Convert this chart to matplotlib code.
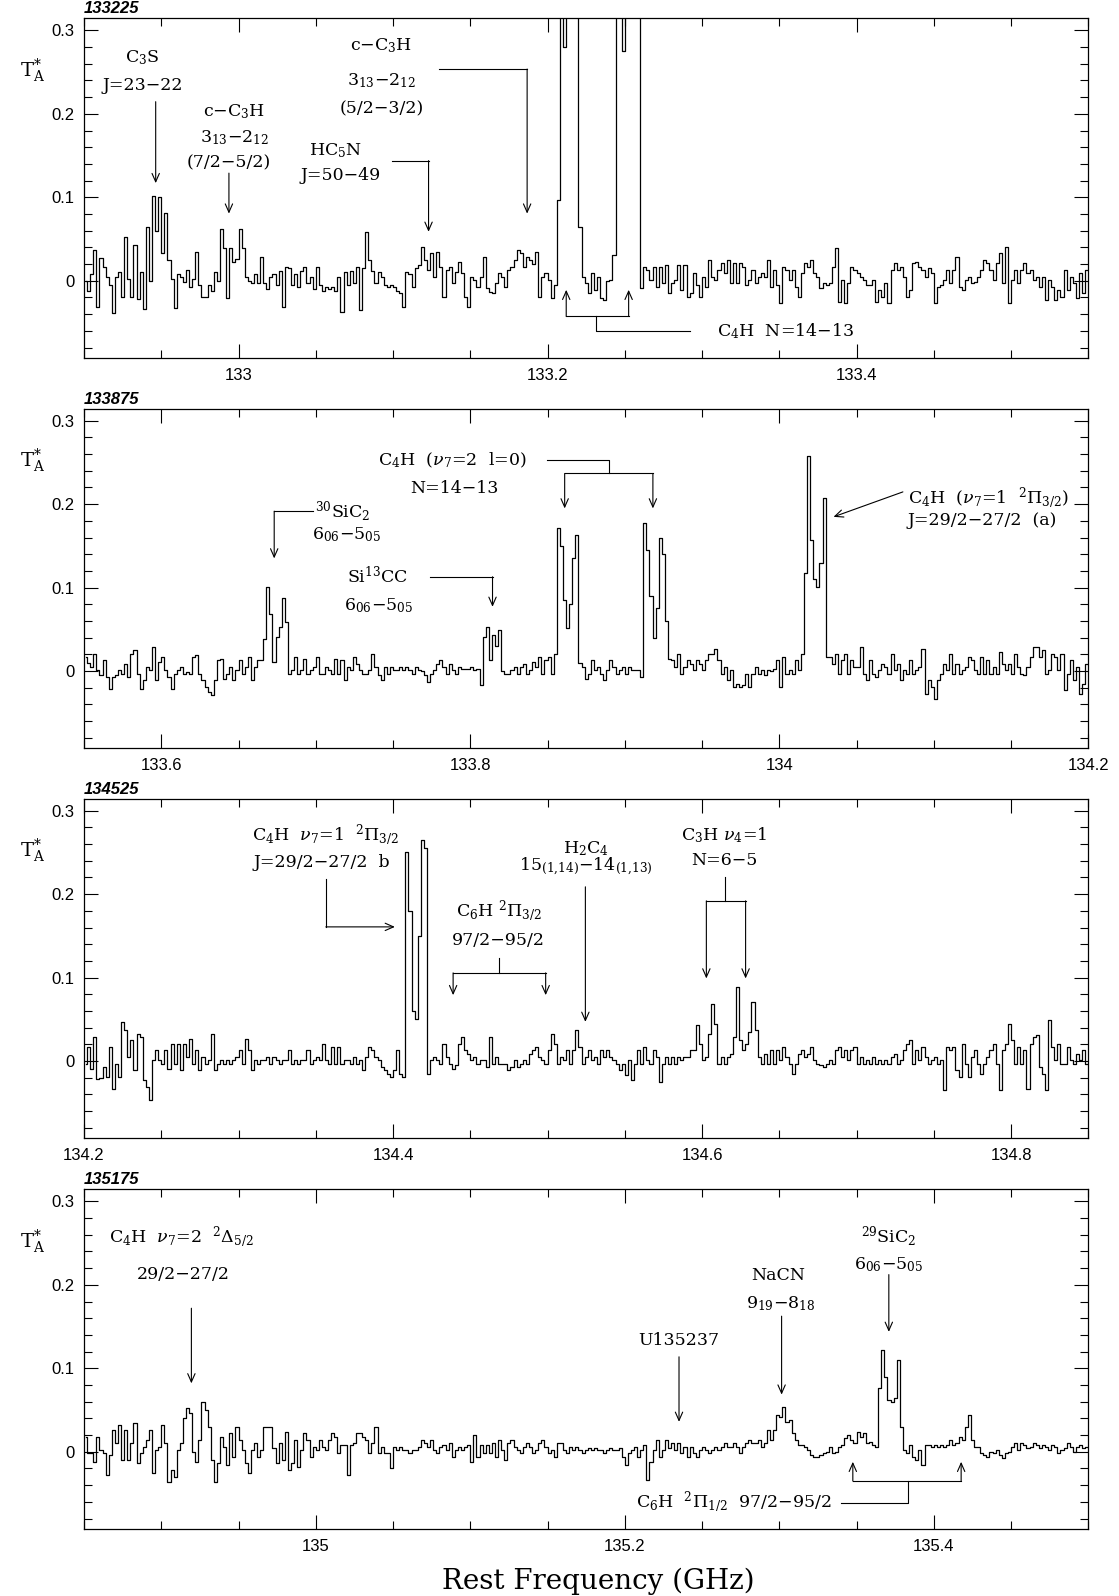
import numpy as np
import matplotlib.pyplot as plt
from matplotlib.ticker import FixedLocator, FuncFormatter

plt.rcParams['font.family'] = 'DejaVu Serif'
plt.rcParams['mathtext.fontset'] = 'dejavuserif'

# spectra: 2 MHz channels, antenna temperature in mK
chan_ghz = 0.002
starts = [132.90, 133.55, 134.20, 134.85]
tags = ['133225', '133875', '134525', '135175']

p1 = [0, -12, 8, 37, -31, 27, 17, 5, -5, -39,
      5, 10, -19, 53, 2, -20, 43, -22, 10, -34,
      65, 0, 101, 60, 100, 33, 81, 25, 2, -33,
      8, 5, -2, 13, -7, 2, 35, -5, -19, -20,
      -5, -12, 10, 0, 62, 39, -21, 39, 22, 26,
      62, 39, 5, 0, -3, 8, -3, 28, -3, -10,
      5, 8, -5, 12, -31, 17, 15, -5, 8, -8,
      12, 17, -3, 5, -10, 17, -5, -12, -8, -10,
      -8, -12, 5, -37, 10, -5, 12, -3, 17, -35,
      15, 59, 25, 12, -3, 10, 5, -5, -8, -5,
      -8, -12, -15, -31, 10, 8, -7, 15, 19, 41,
      25, 13, 33, 5, 35, 17, -19, 13, 17, -3,
      10, 23, 9, -19, -31, 5, 1, -7, 5, 29,
      -9, -13, -15, -3, 9, 5, -7, 13, 17, 25,
      37, 33, 17, 29, 25, 20, 35, -19, 5, 9,
      1, -21, -5, 97, 500, 280, 600, 800, 700, 500,
      65, 5, -3, -15, 9, -11, 5, -21, -23, 0,
      1, 31, 500, 800, 275, 700, 500, 450, 700, 600,
      -9, 17, 13, 1, 17, -7, 17, -3, 19, -15,
      -3, 1, 19, -11, 19, -19, -15, 9, -5, -19,
      5, -7, 25, 5, 1, 13, 21, 9, 25, -3,
      21, -3, 21, 17, -5, 1, 13, -3, 5, 9,
      5, 25, -7, 13, -5, -27, 17, 13, 1, 13,
      -7, -19, 9, 21, 17, 25, 9, 5, -9, -3,
      -5, -3, 17, 39, -25, 1, -27, -3, 17, 13,
      9, 5, 1, -5, -5, 1, -25, -11, -19, -3,
      -27, 13, 21, 13, 17, 5, -19, -11, 21, 23,
      17, 13, 5, 15, 9, -27, -7, -5, 1, 13,
      -3, 13, 29, -7, -11, 1, 5, -3, -1, 5,
      13, 25, 21, 13, 1, 21, 33, -3, 40, -27,
      1, 13, -3, 13, 21, 9, 13, 1, 5, -7,
      5, -23, 1, -7, -23, -11, -19, 13, -11, 5,
      -3, -21, 9, -15, 13]

p2 = [17, 10, 5, 21, 1, -5, 13, -7, -21, -7,
      -5, 1, -3, 9, -7, 21, 25, -3, -21, -11,
      5, 1, 29, -11, 11, 17, 1, -7, -21, -3,
      1, 5, -3, -1, -3, 17, 19, -3, -11, -19,
      -25, -29, -11, 13, 15, -9, -3, 5, -11, 1,
      13, -3, 5, 17, -11, 5, 13, 13, 39, 101,
      69, 11, 41, 53, 87, 59, -3, 1, 17, -3,
      1, 15, -3, 1, 5, 17, -3, -3, 5, 1,
      -3, 15, -3, 13, -11, 5, 1, 17, 9, 1,
      -3, -3, 1, 21, 5, -5, -11, 5, -3, 5,
      1, 1, 5, 1, 5, 1, -3, 5, 1, 0,
      -5, -13, -3, 1, 9, 13, 5, -3, 9, 1,
      -3, 5, 3, 3, 3, 5, 1, 3, -17, 41,
      53, 13, 43, 30, 49, 0, -3, -3, 1, 5,
      -3, 5, 9, -3, 1, 11, 5, 17, -3, 13,
      17, -3, 20, 172, 150, 85, 52, 80, 135, 163,
      10, 5, -9, -3, 13, 1, 5, -3, -11, 1,
      13, 5, -3, 1, 5, -3, 5, 1, 1, 1,
      -7, 178, 145, 90, 40, 75, 160, 140, 60, 15,
      13, 5, 21, -3, 5, 13, 9, 1, 13, 9,
      1, 13, 21, 21, 27, 13, -3, 5, -11, 1,
      -19, -15, -19, -17, -3, -19, -3, 5, -3, 1,
      -5, 1, 0, 3, 13, -19, 17, -3, 1, -3,
      13, 1, 20, 117, 258, 157, 110, 101, 130, 207,
      17, 17, 9, 21, -3, 13, 21, -3, 13, 5,
      5, 29, -3, -11, 13, -3, -7, 1, 9, 5,
      -3, 21, 1, 9, -11, 1, -3, 13, -3, 1,
      5, 27, -27, -11, -19, -33, -11, -3, 9, 1,
      21, -3, 9, -3, 1, 5, 17, 13, 1, -3,
      17, -3, 13, -3, 5, -3, 23, 9, 1, 9,
      -3, 21, 5, -3, -5, 5, 17, 29, 29, 17,
      25, -3, 1, 21, 17, 1, 21, -23, -3, 13,
      -11, 5, -27, -15, 9]

p3 = [-3, 17, -10, 29, -21, -20, -7, -19, 17, -33,
      -3, -19, 47, 37, 5, 25, -11, 33, 29, -23,
      -31, -47, 1, 13, 1, -3, 13, -9, 21, -3,
      21, -11, 21, 5, 27, -3, 13, -11, 5, -3,
      1, 33, -11, -3, 1, -3, 1, -3, 1, 5,
      13, -3, 27, 13, -11, 1, -3, 1, 1, 5,
      -3, 5, 1, -3, 1, 1, 13, -3, 1, -3,
      1, 1, 13, -3, 1, 5, 1, 21, 1, -3,
      17, -3, 17, -3, 1, 1, -3, 5, -3, 1,
      -11, 5, 17, 13, 5, 1, -7, -11, -15, -19,
      -11, 13, -15, -19, 250, 180, 60, 50, 150, 265,
      255, -15, 1, 5, 1, -3, 21, 5, -3, -9,
      -5, 21, 29, 13, 9, 1, 5, -3, 1, 1,
      -7, 29, -3, 5, -3, -3, -3, -11, -7, 1,
      -7, -3, 1, -3, 9, 13, 17, 5, 1, -3,
      13, 33, 21, -3, 5, 1, 13, -3, 13, 37,
      17, -3, 5, 13, 1, 5, -3, 13, 5, 13,
      5, 1, -3, -11, -3, -17, 1, -23, -3, 13,
      -3, 17, 1, -3, 13, 5, -25, -3, 5, -3,
      5, -3, 5, 1, 5, 5, 13, 13, 43, 21,
      1, 5, 33, 69, 45, -3, 5, -3, 5, 9,
      29, 89, 25, 13, 21, 35, 71, 37, 5, -3,
      9, -3, 13, -3, 13, 1, 17, 5, -3, -15,
      -3, 9, 13, 5, 9, 17, 1, -3, -5, -7,
      -3, 1, -3, 13, 17, 5, 13, 1, 13, 17,
      -3, 5, -3, 1, -3, 5, -3, 1, -3, 1,
      -3, 5, 9, -3, 1, 13, 21, 25, -3, 13,
      1, 17, 5, -3, 1, 5, -3, 1, -35, 17,
      13, 17, -11, -19, 21, -3, -19, 5, 13, -3,
      -15, -3, 5, 13, 21, -3, -35, 13, 21, 45,
      25, -3, 17, -3, 13, -33, 21, 29, 31, -7,
      -15, -35, 49, 17, 1, 21, -3, -3, 17, 1,
      -3, 9, 1, 13, -3]

p4 = [18, -2, -2, -12, 18, 2, -2, -28, -4, 26,
      10, 32, -10, 26, -10, 10, 34, -14, -2, 6,
      14, 26, -26, 2, 6, 32, 10, -36, -22, -30,
      2, 10, 40, 52, 46, 0, -12, 14, 60, 50,
      30, -10, -36, -14, 18, 6, -16, 22, -6, 30,
      14, 2, -14, -26, 2, 10, -6, 2, 30, 30,
      30, 4, -14, 10, -10, 24, -22, -14, 14, -18,
      2, 22, 14, -6, 6, 2, 14, 6, 2, 14,
      22, 18, -2, 8, 8, -28, 8, 10, 22, 22,
      18, 14, -2, 10, 30, -2, 6, -2, -2, -20,
      6, 2, 6, 2, 2, -2, 2, 2, 6, 14,
      10, 6, 14, 2, -2, 6, 8, 2, 10, -6,
      2, 6, 2, 6, 8, -12, 20, -6, 8, -2,
      8, -2, 10, -6, 14, 2, -10, 10, 14, 6,
      2, -2, 6, 10, 6, -2, 2, 10, 14, 6,
      -2, 2, -6, 10, 10, 2, -2, 6, 2, 6,
      2, -2, 2, 4, 2, 4, 2, 2, -2, 2,
      4, 2, 2, 4, -6, -16, -2, 2, 6, -6,
      2, 8, -34, -12, 2, 14, -6, 2, 14, 4,
      10, 2, 10, -2, 6, -6, 6, -2, -6, 2,
      6, 2, -2, 2, 6, 2, 6, 10, 6, 6,
      10, 6, -2, 6, 10, 14, 10, 10, 14, 6,
      10, 26, 14, 26, 44, 42, 54, 36, 38, 22,
      14, 8, 8, 6, 2, -4, -6, -6, -4, -2,
      0, 6, -2, 0, 6, 8, 16, 20, 14, 10,
      24, 18, 22, 10, 12, 8, 6, 76, 122, 90,
      62, 60, 64, 110, 30, 2, -2, 8, -6, -10,
      2, -16, 8, 8, 6, 8, 6, 8, 6, 8,
      14, 8, 10, 18, 14, 30, 44, 14, 6, 6,
      -2, -4, -6, 0, -2, 2, -4, -8, -2, 0,
      6, 10, 2, 10, 8, 4, 6, 10, 8, 4,
      8, 6, 2, 8, 6, -2, 2, 4, 10, 6,
      0, 6, 8, 4, 6]

spectra = [p1, p2, p3, p4]

fig = plt.figure(figsize=(11.19, 15.96), dpi=100)
left, width, height = 84 / 1119, 1004.3 / 1119, 339.7 / 1596
bottoms = [1 - 358 / 1596, 1 - 748.3 / 1596, 1 - 1138.3 / 1596, 1 - 1529 / 1596]
ymin, ymax = -0.0925, 0.3145

tick_font = dict(family='Liberation Sans', size=12)
ann_size = 12.5
lw_ann = 0.8


def arrow(ax, pts):
    # polyline with an open arrow head at the last point
    xs = [p[0] for p in pts]
    ys = [p[1] for p in pts]
    if len(pts) > 2:
        ax.plot(xs[:-1], ys[:-1], color='k', lw=lw_ann)
    ax.annotate('', xy=pts[-1], xytext=pts[-2],
                arrowprops=dict(arrowstyle='->,head_length=0.5,head_width=0.22',
                                color='k', lw=lw_ann, shrinkA=0, shrinkB=0,
                                mutation_scale=12))


def line(ax, pts):
    ax.plot([p[0] for p in pts], [p[1] for p in pts], color='k', lw=lw_ann)


def label(ax, x, y, s, ha='center'):
    ax.text(x, y, s, ha=ha, va='center', fontsize=ann_size)


axes = []
for k in range(4):
    ax = fig.add_axes([left, bottoms[k], width, height])
    f0 = starts[k]
    f1 = f0 + chan_ghz * len(spectra[k])
    temps = np.array(spectra[k]) / 1000.0
    freqs = f0 + chan_ghz * (np.arange(len(temps)) + 0.5)
    ax.plot(freqs, temps, drawstyle='steps-mid', color='k', lw=0.9)
    ax.set_xlim(f0, f1)
    ax.set_ylim(ymin, ymax)

    grid = np.round(np.arange(132.0, 136.0001, 0.05), 2)
    inside = grid[(grid >= f0 - 1e-6) & (grid <= f1 + 1e-6)]
    major = [t for t in inside if abs(t * 5 - round(t * 5)) < 1e-6]
    ax.xaxis.set_major_locator(FixedLocator(major))
    ax.xaxis.set_minor_locator(FixedLocator(list(inside)))
    ax.yaxis.set_major_locator(FixedLocator([0, 0.1, 0.2, 0.3]))
    ax.yaxis.set_minor_locator(FixedLocator(np.round(np.arange(-0.08, 0.31, 0.02), 2)))
    fmt = FuncFormatter(lambda v, p: '%g' % round(v, 3))
    ax.xaxis.set_major_formatter(fmt)
    ax.yaxis.set_major_formatter(fmt)
    ax.tick_params(which='both', direction='in', top=True, right=True, width=0.8)
    ax.tick_params(which='major', length=10, pad=7)
    ax.tick_params(which='minor', length=5.5)
    for t in ax.get_xticklabels() + ax.get_yticklabels():
        t.set_fontfamily(tick_font['family'])
        t.set_fontsize(tick_font['size'])
    for s in ax.spines.values():
        s.set_linewidth(0.9)

    ax.text(0.0, 1.006, tags[k], transform=ax.transAxes, ha='left', va='bottom',
            fontsize=12, fontweight='bold', style='italic', family='Liberation Sans')
    ax.text(-0.051, 0.845, r'T$_{\rm A}^{*}$', transform=ax.transAxes,
            ha='center', va='center', fontsize=14)
    axes.append(ax)

ax1, ax2, ax3, ax4 = axes

# panel 1
label(ax1, 132.9378, 0.267, r'C$_3$S')
label(ax1, 132.9378, 0.234, 'J=23−22')
arrow(ax1, [(132.9464, 0.2146), (132.9464, 0.117)])
label(ax1, 132.9972, 0.2024, 'c−C$_3$H')
label(ax1, 132.9972, 0.172, '3$_{13}$−2$_{12}$')
label(ax1, 132.9938, 0.1414, '(7/2−5/2)')
arrow(ax1, [(132.9938, 0.129), (132.9938, 0.0805)])
label(ax1, 133.063, 0.156, 'HC$_5$N')
label(ax1, 133.066, 0.1257, 'J=50−49')
arrow(ax1, [(133.0992, 0.144), (133.123, 0.144), (133.123, 0.0587)])
label(ax1, 133.0926, 0.2817, 'c−C$_3$H')
label(ax1, 133.0926, 0.2402, '3$_{13}$−2$_{12}$')
label(ax1, 133.0926, 0.2061, '(5/2−3/2)')
arrow(ax1, [(133.130, 0.2537), (133.1868, 0.2537), (133.1868, 0.0805)])
arrow(ax1, [(133.2121, -0.0427), (133.2121, -0.0108)])
arrow(ax1, [(133.2525, -0.0427), (133.2525, -0.0108)])
line(ax1, [(133.2121, -0.0427), (133.2525, -0.0427)])
line(ax1, [(133.2312, -0.0427), (133.2312, -0.0607), (133.292, -0.0607)])
label(ax1, 133.3099, -0.0607, 'C$_4$H  N=14−13', ha='left')

# panel 2
label(ax2, 133.7175, 0.1908, r'$^{30}$SiC$_2$')
label(ax2, 133.72, 0.163, '6$_{06}$−5$_{05}$')
arrow(ax2, [(133.6983, 0.1916), (133.6731, 0.1916), (133.6731, 0.135)])
label(ax2, 133.740, 0.113, r'Si$^{13}$CC')
label(ax2, 133.7405, 0.079, '6$_{06}$−5$_{05}$')
arrow(ax2, [(133.7738, 0.113), (133.8144, 0.113), (133.8144, 0.077)])
label(ax2, 133.7885, 0.2527, r'C$_4$H  ($\nu_7$=2  l=0)')
label(ax2, 133.79, 0.2184, 'N=14−13')
line(ax2, [(133.8499, 0.2527), (133.8896, 0.2527), (133.8896, 0.2368)])
line(ax2, [(133.8611, 0.2368), (133.9182, 0.2368)])
arrow(ax2, [(133.8611, 0.2368), (133.8611, 0.1949)])
arrow(ax2, [(133.9182, 0.2368), (133.9182, 0.1949)])
label(ax2, 134.0832, 0.207, r'C$_4$H  ($\nu_7$=1  $^2\Pi_{3/2}$)', ha='left')
label(ax2, 134.0832, 0.181, 'J=29/2−27/2  (a)', ha='left')
arrow(ax2, [(134.080, 0.2147), (134.0351, 0.1848)])

# panel 3
label(ax3, 134.3564, 0.271, r'C$_4$H  $\nu_7$=1  $^2\Pi_{3/2}$')
label(ax3, 134.3538, 0.238, 'J=29/2−27/2  b')
arrow(ax3, [(134.3565, 0.2176), (134.3565, 0.1608), (134.4012, 0.1608)])
label(ax3, 134.4684, 0.1788, r'C$_6$H $^2\Pi_{3/2}$')
label(ax3, 134.4684, 0.145, '97/2−95/2')
line(ax3, [(134.4686, 0.123), (134.4686, 0.1057)])
line(ax3, [(134.4389, 0.1057), (134.4988, 0.1057)])
arrow(ax3, [(134.4389, 0.1057), (134.4389, 0.079)])
arrow(ax3, [(134.4988, 0.1057), (134.4988, 0.079)])
label(ax3, 134.5252, 0.2547, r'H$_2$C$_4$')
label(ax3, 134.5249, 0.2327, r'15$_{(1{,}14)}$−14$_{(1{,}13)}$')
arrow(ax3, [(134.5245, 0.2088), (134.5245, 0.047)])
label(ax3, 134.6146, 0.271, r'C$_3$H $\nu_4$=1')
label(ax3, 134.6146, 0.2407, 'N=6−5')
line(ax3, [(134.6146, 0.2207), (134.6146, 0.192)])
line(ax3, [(134.6028, 0.192), (134.6282, 0.192)])
arrow(ax3, [(134.6028, 0.192), (134.6028, 0.099)])
arrow(ax3, [(134.6282, 0.192), (134.6282, 0.099)])

# panel 4
label(ax4, 134.8662, 0.2574, r'C$_4$H  $\nu_7$=2  $^2\Delta_{5/2}$', ha='left')
label(ax4, 134.9142, 0.2123, '29/2−27/2')
arrow(ax4, [(134.9195, 0.172), (134.9195, 0.082)])
label(ax4, 135.2349, 0.1338, 'U135237')
arrow(ax4, [(135.2351, 0.1138), (135.2351, 0.0359)])
label(ax4, 135.2995, 0.2112, 'NaCN')
label(ax4, 135.3008, 0.178, '9$_{19}$−8$_{18}$')
arrow(ax4, [(135.3015, 0.1625), (135.3015, 0.0685)])
label(ax4, 135.3707, 0.2574, r'$^{29}$SiC$_2$')
label(ax4, 135.3707, 0.2245, '6$_{06}$−5$_{05}$')
arrow(ax4, [(135.3709, 0.2123), (135.3709, 0.1437)])
label(ax4, 135.3336, -0.061, r'C$_6$H  $^2\Pi_{1/2}$  97/2−95/2', ha='right')
line(ax4, [(135.3401, -0.061), (135.3832, -0.061), (135.3832, -0.0351)])
line(ax4, [(135.3476, -0.0351), (135.4177, -0.0351)])
arrow(ax4, [(135.3476, -0.0351), (135.3476, -0.012)])
arrow(ax4, [(135.4177, -0.0351), (135.4177, -0.012)])

fig.text(0.535, 1 - 1581 / 1596, 'Rest Frequency (GHz)', ha='center', va='center',
         fontsize=20)

fig.savefig('out.png', dpi=100)
